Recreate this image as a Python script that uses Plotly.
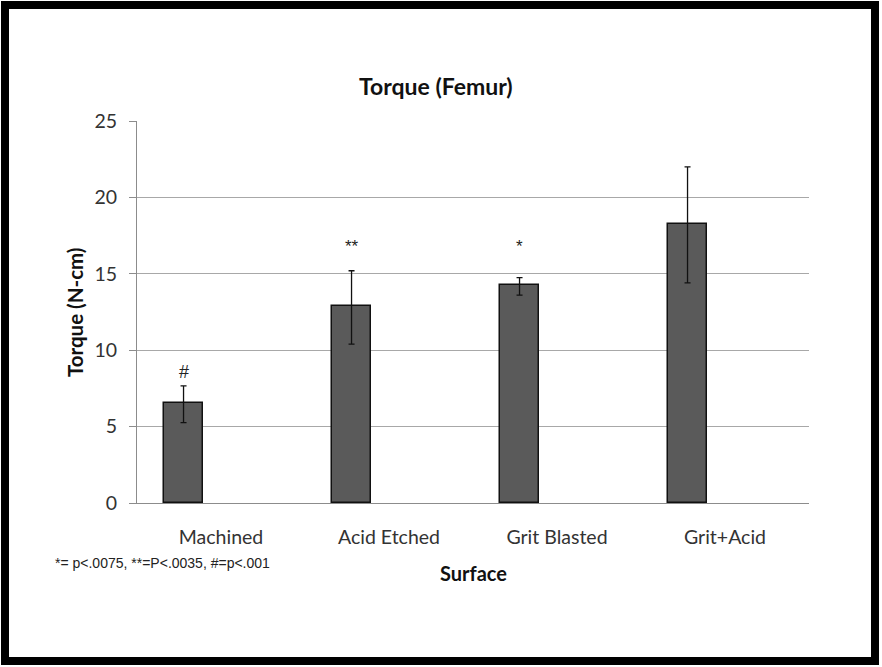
import plotly.graph_objects as go

# ---- data ----
categories = ["Machined", "Acid Etched", "Grit Blasted", "Grit+Acid"]
torque = [6.55, 12.9, 14.27, 18.26]
err_plus = [1.12, 2.3, 0.48, 3.74]
err_minus = [1.29, 2.5, 0.67, 3.86]
sig_labels = ["#", "**", "*", ""]
sig_y = [8.6, 16.8, 16.8, None]
y_ticks = [0, 5, 10, 15, 20, 25]
footnote = "*= p<.0075, **=P<.0035, #=p<.001"

W, H = 882, 667
L, R, T, B = 137, 809, 121, 503  # plot area in px


def px(x):
    return (x - L) / (R - L)


def py(y):
    return (B - y) / (B - T)


bar_w = 0.232
bar_off = -0.339

fig = go.Figure()
fig.add_trace(go.Bar(
    x=categories, y=torque,
    width=[bar_w] * len(categories), offset=[bar_off] * len(categories),
    marker=dict(color="#5a5a5a", line=dict(color="#111111", width=1.5)),
    error_y=dict(type="data", symmetric=False, array=err_plus, arrayminus=err_minus,
                 color="#111111", thickness=1.3, width=3),
    showlegend=False,
))

annotations = []
for i, (lab, yv) in enumerate(zip(sig_labels, sig_y)):
    if lab and yv is not None:
        annotations.append(dict(x=i + bar_off + bar_w / 2, y=yv, xref="x", yref="y",
                                xanchor="center", yanchor="middle",
                                text=lab, showarrow=False,
                                font=dict(family="Liberation Sans", size=18 if lab == "#" else 17,
                                          color="#222")))

annotations += [
    dict(x=px(436), y=py(86), xref="paper", yref="paper", text="<b>Torque (Femur)</b>",
         xanchor="center", yanchor="middle",
         showarrow=False, font=dict(family="Lato", size=23, color="#111")),
    dict(x=px(473), y=py(573), xref="paper", yref="paper", text="<b>Surface</b>",
         xanchor="center", yanchor="middle",
         showarrow=False, font=dict(family="Lato", size=20, color="#111")),
    dict(x=px(75), y=py(312), xref="paper", yref="paper", text="<b>Torque (N-cm)</b>",
         xanchor="center", yanchor="middle",
         textangle=-90, showarrow=False, font=dict(family="Lato", size=20.5, color="#111")),
    dict(x=px(53), y=py(563), xref="paper", yref="paper", text=footnote,
         xanchor="left", yanchor="middle",
         showarrow=False, font=dict(family="Liberation Sans", size=14, color="#222")),
]

shapes = [
    dict(type="rect", xref="paper", yref="paper",
         x0=px(5), x1=px(875), y0=py(661), y1=py(5),
         line=dict(color="#000000", width=8), fillcolor="rgba(0,0,0,0)", layer="below"),
]

fig.update_layout(
    width=W, height=H,
    margin=dict(l=L, r=W - R, t=T, b=H - B, pad=0),
    paper_bgcolor="white", plot_bgcolor="white",
    font=dict(family="Lato", size=19, color="#333"),
    annotations=annotations, shapes=shapes,
    bargap=0,
    xaxis=dict(type="category", showline=True, linecolor="#8c8c8c", linewidth=1,
               showgrid=False, ticks="", ticklabelstandoff=17,
               tickfont=dict(family="Lato", size=19.5, color="#333"), range=[-0.5, 3.5]),
    yaxis=dict(range=[0, 25], tickvals=y_ticks, showgrid=True, gridcolor="#a8a8a8", gridwidth=1,
               showline=True, linecolor="#8c8c8c", linewidth=1, ticks="outside", ticklen=7,
               tickcolor="#8c8c8c", ticklabelstandoff=8, zeroline=False,
               tickfont=dict(family="Lato", size=19.5, color="#333")),
)

fig.write_html("out.html", config={"displayModeBar": False},
               post_script="document.body.style.margin='0px';document.body.style.overflow='hidden';")
